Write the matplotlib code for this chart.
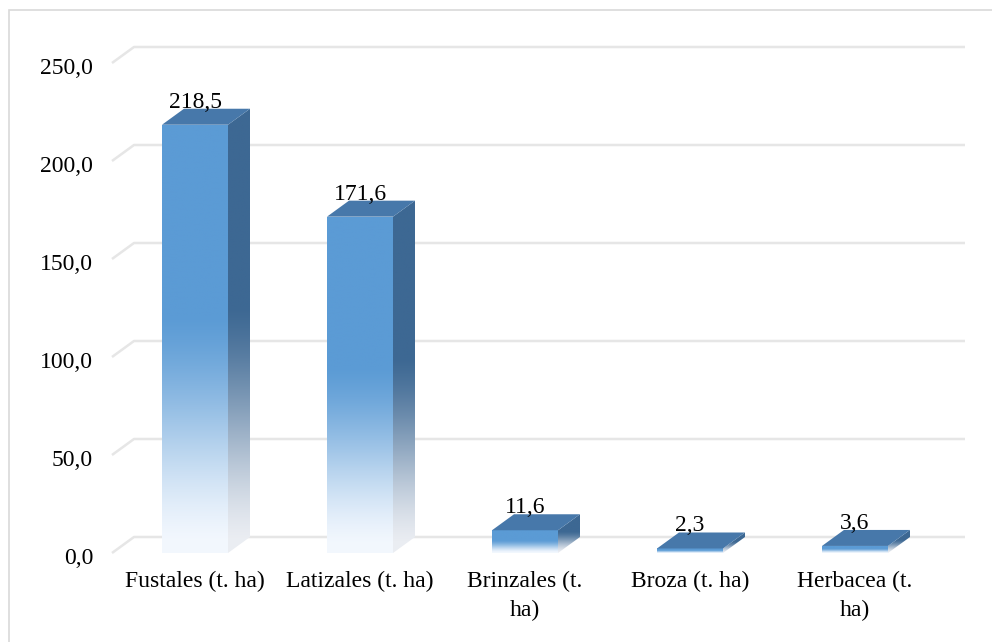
import numpy as np
import matplotlib
matplotlib.use("Agg")
import matplotlib.pyplot as plt
from matplotlib.patches import Polygon, Rectangle
from matplotlib.colors import to_rgb

categories = ["Fustales (t. ha)", "Latizales (t. ha)", "Brinzales (t.\nha)",
              "Broza (t. ha)", "Herbacea (t.\nha)"]
values = [218.5, 171.6, 11.6, 2.3, 3.6]
value_labels = ["218,5", "171,6", "11,6", "2,3", "3,6"]
y_ticks = [0, 50, 100, 150, 200, 250]
y_tick_labels = ["0,0", "50,0", "100,0", "150,0", "200,0", "250,0"]

plt.rcParams["font.family"] = ["Liberation Serif", "DejaVu Serif"]
FS = 17

W, H = 992, 642
fig = plt.figure(figsize=(W / 100, H / 100), dpi=100)

# Axes placed in pixel terms: category i at 195 + 165*i px, value 0 at y=553 px, 1.96 px per unit
ax_l, ax_r, ax_t, ax_b = 100, 980, 20, 600
ax = fig.add_axes([ax_l / W, (H - ax_b) / H, (ax_r - ax_l) / W, (ax_b - ax_t) / H])
px_per_cat = 165.0
px_per_val = 1.96
ax.set_xlim((ax_l - 195) / px_per_cat, (ax_r - 195) / px_per_cat)
ax.set_ylim((553 - ax_b) / px_per_val, (553 - ax_t) / px_per_val)
ax.axis("off")

# depth of the 3D projection (in data units)
ddx = 22 / px_per_cat
ddy = 16 / px_per_val
half = 33 / px_per_cat

# back-wall gridlines with a short floor/side diagonal
x_front = (112 - 195) / px_per_cat
x_end = (965 - 195) / px_per_cat
for t, lab in zip(y_ticks, y_tick_labels):
    ax.plot([x_front, x_front + ddx, x_end], [t, t + ddy, t + ddy],
            color="#E6E6E6", lw=1.8, zorder=1, solid_capstyle="butt")
    ax.text(x_front - 19 / px_per_cat, t - 5 / px_per_val, lab,
            ha="right", va="center", fontsize=FS, color="black")

front_top = np.array(to_rgb("#5B9BD5"))
side_top = np.array(to_rgb("#3D6893"))
top_col = np.array(to_rgb("#4778AA"))
white = np.array([0.95, 0.97, 0.995])
side_low = np.array([0.92, 0.93, 0.95])


def gradient(c_top, c_bot, n=256, solid=0.45):
    f = np.linspace(0, 1, n)  # 0 at top, 1 at bottom
    w = np.clip((f - solid) / (0.97 - solid), 0, 1)
    w = 0.5 * (w + w * w * (3 - 2 * w))  # soft blend
    rgb = c_top[None, :] * (1 - w[:, None]) + c_bot[None, :] * w[:, None]
    return rgb[:, None, :]


for i, v in enumerate(values):
    x0, x1 = i - half, i + half
    # front face
    poly = Polygon([(x0, 0), (x1, 0), (x1, v), (x0, v)], closed=True,
                   facecolor="none", edgecolor="none")
    ax.add_patch(poly)
    im = ax.imshow(gradient(front_top, white), extent=(x0, x1, 0, v), origin="upper",
                   aspect="auto", interpolation="bilinear", zorder=3)
    im.set_clip_path(poly)
    # side face
    side = Polygon([(x1, 0), (x1 + ddx, ddy), (x1 + ddx, v + ddy), (x1, v)], closed=True,
                   facecolor="none", edgecolor="none")
    ax.add_patch(side)
    im2 = ax.imshow(gradient(side_top, side_low), extent=(x1, x1 + ddx, 0, v + ddy),
                    origin="upper", aspect="auto", interpolation="bilinear", zorder=2.9)
    im2.set_clip_path(side)
    # top face
    ax.add_patch(Polygon([(x0, v), (x1, v), (x1 + ddx, v + ddy), (x0 + ddx, v + ddy)],
                         closed=True, facecolor=top_col, edgecolor="none", zorder=3.1))
    # value label
    ax.text(i, v + 22.5 / px_per_val, value_labels[i], ha="center", va="center",
            fontsize=FS, color="black", zorder=5)
    # category label
    ax.text(i, -18 / px_per_val, categories[i], ha="center", va="top",
            fontsize=FS, color="black", linespacing=1.45)

ax.set_xlim((ax_l - 195) / px_per_cat, (ax_r - 195) / px_per_cat)
ax.set_ylim((553 - ax_b) / px_per_val, (553 - ax_t) / px_per_val)

# chart area border (extends past the right and bottom edges)
fig.patches.append(Rectangle((8.5 / W, -0.05), 1.1, (H - 9.5) / H + 0.05,
                             transform=fig.transFigure, fill=False,
                             edgecolor="#D9D9D9", lw=1.2))

fig.savefig("out.png", dpi=100, facecolor="white")
